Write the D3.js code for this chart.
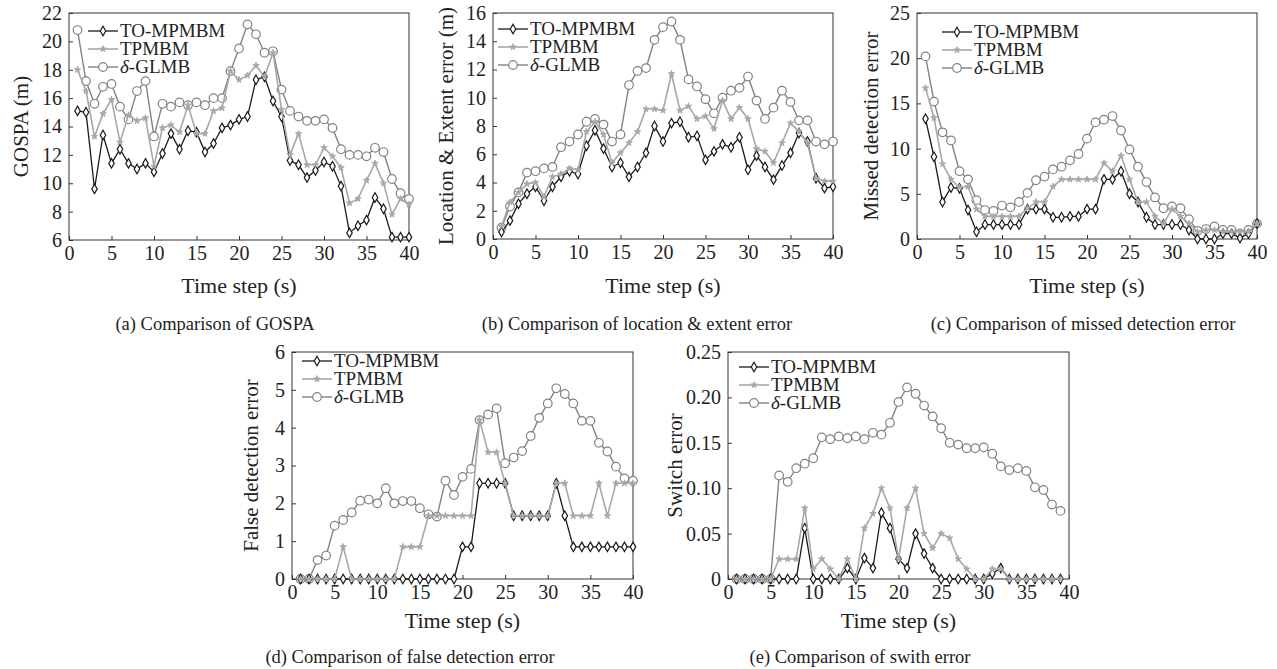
<!DOCTYPE html>
<html lang="en">
<head>
<meta charset="UTF-8">
<title>Tracking error comparison</title>
<script src="https://cdn.jsdelivr.net/npm/d3@7/dist/d3.min.js"></script>
<style>
    body { margin: 0; background: #fff; }
    svg { font-family: "Liberation Serif", "Times New Roman", serif; }
</style>
</head>
<body>
<svg width="1277" height="669"></svg>
<script>
    // time steps
    var steps = d3.range(1, 41);
    var stepsE = d3.range(1, 40);
    var seriesNames = ["TO-MPMBM", "TPMBM", "δ-GLMB"];

    // (a) GOSPA
    var gospaTO = [15.1,15.0,9.6,13.4,11.4,12.4,11.4,11.0,11.4,10.8,12.1,13.5,12.4,13.7,13.6,12.2,12.8,13.9,14.1,14.5,14.7,17.3,17.5,15.8,14.7,11.6,11.3,10.4,10.9,11.5,11.2,9.8,6.5,7.0,7.4,9.0,8.2,6.2,6.2,6.2];
    var gospaTP = [18.0,16.5,13.3,14.9,15.9,12.9,14.8,14.4,14.6,11.2,13.9,14.1,13.6,15.5,13.5,13.5,15.1,15.3,17.9,17.3,17.6,18.3,17.5,19.2,15.2,12.0,13.5,11.3,11.3,12.5,11.9,11.1,8.6,8.9,10.2,11.4,10.0,7.8,8.9,8.5];
    var gospaGL = [20.8,17.2,15.6,16.8,17.0,15.4,14.5,16.5,17.2,13.3,15.6,15.4,15.7,15.5,15.7,15.5,16.0,16.0,17.9,19.5,21.2,20.5,19.2,19.3,16.6,15.1,14.7,14.4,14.4,14.5,13.9,12.4,12.0,12.0,11.9,12.5,12.2,10.3,9.3,8.9];

    // (b) location & extent error
    var locTO = [0.5,1.3,2.5,3.2,3.7,2.7,3.7,4.4,4.8,4.6,6.6,7.7,6.4,5.1,5.4,4.4,5.1,6.1,8.0,6.9,8.2,8.3,7.2,7.3,5.6,6.2,6.7,6.5,7.2,4.9,5.9,5.1,4.2,5.2,6.1,7.5,6.9,4.3,3.6,3.7];
    var locTP = [0.9,2.6,3.3,3.9,4.0,3.0,4.4,4.6,5.0,4.9,7.6,8.3,7.4,5.4,6.1,6.8,7.6,9.2,9.2,9.1,11.7,9.1,9.4,8.5,8.7,7.8,9.8,8.5,9.3,8.5,6.4,6.2,5.4,6.8,8.2,7.6,6.8,4.3,4.1,4.1];
    var locGL = [0.8,2.3,3.3,4.7,4.8,5.0,5.1,6.5,6.9,7.4,8.3,8.5,8.1,6.9,7.4,10.9,11.9,12.1,14.1,15.0,15.4,14.1,11.3,10.8,9.9,8.9,10.0,10.5,10.7,11.5,9.8,8.5,9.3,10.5,9.7,8.4,8.4,6.9,6.7,6.9];

    // (c) missed detection error
    var missTO = [13.3,9.1,4.1,5.7,5.6,3.2,0.8,1.6,1.6,1.6,1.6,1.6,3.3,3.3,3.3,2.4,2.4,2.5,2.5,3.3,3.3,6.6,6.6,7.5,5.0,4.1,2.4,1.6,1.6,1.6,1.6,1.0,0,0,0,0.6,0.6,0.1,0.6,1.7];
    var missTP = [16.7,13.4,8.3,6.6,5.7,5.8,3.3,2.5,2.5,2.5,2.5,2.5,3.4,4.1,4.1,5.8,6.6,6.6,6.6,6.6,6.6,8.4,7.5,9.2,6.6,4.1,4.1,2.5,1.7,3.3,2.5,1.7,0.8,1.0,1.0,0.8,0.8,0.8,0.8,1.7];
    var missGL = [20.2,15.2,11.8,10.9,7.5,6.6,4.3,3.2,3.1,3.7,3.5,4.1,5.1,6.5,6.9,7.7,8.0,8.7,9.4,11.1,12.9,13.2,13.6,12.0,9.9,8.0,6.3,4.6,3.4,3.6,3.4,2.2,0.9,1.1,1.4,1.0,1.0,0.6,1.0,1.7];

    // (d) false detection error
    var falseTO = [0,0,0,0,0,0,0,0,0,0,0,0,0,0,0,0,0,0,0,0.85,0.85,2.53,2.53,2.53,2.53,1.67,1.67,1.67,1.67,1.67,2.53,1.67,0.85,0.85,0.85,0.85,0.85,0.85,0.85,0.85];
    var falseTP = [0,0,0,0,0,0.85,0,0,0,0,0,0,0.85,0.85,0.85,1.67,1.67,1.67,1.67,1.67,1.67,4.2,3.35,3.35,2.53,1.67,1.67,1.67,1.67,1.67,2.53,2.53,1.67,1.67,1.67,2.53,1.67,2.53,2.53,2.53];
    var falseGL = [0,0,0.5,0.62,1.41,1.56,1.76,2.07,2.1,2.0,2.4,2.0,2.06,2.06,1.87,1.71,1.65,2.6,2.22,2.7,2.91,4.2,4.35,4.51,3.06,3.21,3.38,3.78,4.26,4.64,5.04,4.89,4.64,4.18,4.18,3.6,3.37,2.97,2.66,2.6];

    // (e) switch error (steps 1..39)
    var switchTO = [0,0,0,0,0,0,0,0,0.056,0,0,0,0,0.012,0,0.023,0.012,0.073,0.056,0.022,0.012,0.05,0.028,0.012,0,0,0,0,0,0,0.006,0.012,0,0,0,0,0,0,0];
    var switchTP = [0,0,0,0,0,0.022,0.022,0.022,0.078,0.011,0.022,0.011,0,0.022,0,0.056,0.072,0.1,0.078,0.022,0.078,0.1,0.05,0.034,0.05,0.045,0.022,0.011,0,0,0.011,0.011,0,0,0,0,0,0,0];
    var switchGL = [0,0,0,0,0,0.114,0.107,0.122,0.127,0.133,0.156,0.154,0.157,0.155,0.157,0.154,0.161,0.159,0.172,0.195,0.211,0.204,0.191,0.179,0.166,0.15,0.148,0.144,0.144,0.145,0.138,0.124,0.12,0.122,0.119,0.101,0.098,0.082,0.075];

    // tick labels
    var xTicks = [0, 5, 10, 15, 20, 25, 30, 35, 40];
    var gospaTicks = [6, 8, 10, 12, 14, 16, 18, 20, 22];
    var locTicks = [0, 2, 4, 6, 8, 10, 12, 14, 16];
    var missTicks = [0, 5, 10, 15, 20, 25];
    var falseTicks = [0, 1, 2, 3, 4, 5, 6];
    var switchTicks = [0, 0.05, 0.10, 0.15, 0.20, 0.25];

    var panels = [
        {x: steps, ys: [gospaTO, gospaTP, gospaGL], ticks: gospaTicks, fmt: d3.format("d"),
         ylabel: "GOSPA (m)", caption: "(a) Comparison of GOSPA",
         left: 69, top: 13, w: 340, h: 227, ylabX: 21, capX: 215, titleDy: 53, capDy: 90, leg: [19, 18]},
        {x: steps, ys: [locTO, locTP, locGL], ticks: locTicks, fmt: d3.format("d"),
         ylabel: "Location & Extent error (m)", caption: "(b) Comparison of location & extent error",
         left: 493, top: 13, w: 340, h: 226, ylabX: 446, capX: 637, titleDy: 54, capDy: 91, leg: [5, 16]},
        {x: steps, ys: [missTO, missTP, missGL], ticks: missTicks, fmt: d3.format("d"),
         ylabel: "Missed detection error", caption: "(c) Comparison of missed detection error",
         left: 917, top: 13, w: 340, h: 226, ylabX: 871, capX: 1083, titleDy: 54, capDy: 91, leg: [25, 19]},
        {x: steps, ys: [falseTO, falseTP, falseGL], ticks: falseTicks, fmt: d3.format("d"),
         ylabel: "False detection error", caption: "(d) Comparison of false detection error",
         left: 292, top: 352, w: 341, h: 227, ylabX: 251, capX: 410, titleDy: 49, capDy: 84, leg: [10, 9]},
        {x: stepsE, ys: [switchTO, switchTP, switchGL], ticks: switchTicks,
         fmt: function(d) { return d === 0 ? "0" : d3.format(".2f")(d); },
         ylabel: "Switch error", caption: "(e) Comparison of swith error",
         left: 728, top: 352, w: 341, h: 227, ylabX: 675, capX: 860, titleDy: 49, capDy: 84, leg: [11, 15]}
    ];

    var colors = ["#1a1a1a", "#a8a8a8", "#828282"];
    var widths = [1.3, 1.6, 1.4];

    var svg = d3.select("svg");

    function drawMarker(sel, k) {
        if (k === 0) {
            sel.append("path")
                .attr("d", d3.symbol(d3.symbolDiamond, 26))
                .attr("fill", "#fff").attr("stroke", colors[0]).attr("stroke-width", 1.2);
        } else if (k === 1) {
            sel.append("path")
                .attr("d", d3.symbol(d3.symbolStar, 13))
                .attr("fill", colors[1]).attr("stroke", colors[1]).attr("stroke-width", 0.9);
        } else {
            sel.append("circle")
                .attr("r", 4.3)
                .attr("fill", "#fff").attr("stroke", colors[2]).attr("stroke-width", 1.2);
        }
    }

    panels.forEach(function(p) {
        var xScale = d3.scaleLinear().domain([0, 40]).range([0, p.w]);
        var yScale = d3.scaleLinear()
            .domain([p.ticks[0], p.ticks[p.ticks.length - 1]])
            .range([p.h, 0]);

        var g = svg.append("g")
            .attr("transform", "translate(" + p.left + "," + p.top + ")");

        var xAxis = g.append("g")
            .attr("transform", "translate(0," + p.h + ")")
            .call(d3.axisBottom(xScale).tickValues(xTicks).tickSize(-4).tickPadding(6));
        var yAxis = g.append("g")
            .call(d3.axisLeft(yScale).tickValues(p.ticks).tickFormat(p.fmt).tickSize(-4).tickPadding(7));

        [xAxis, yAxis].forEach(function(ax) {
            ax.select(".domain").remove();
            ax.selectAll("line").attr("stroke", "#333");
            ax.selectAll("text")
                .attr("font-family", "Liberation Serif")
                .attr("font-size", 20)
                .attr("fill", "#222");
        });
        xAxis.selectAll("text").attr("dy", "0.72em");

        g.append("rect")
            .attr("width", p.w).attr("height", p.h)
            .attr("fill", "none").attr("stroke", "#333").attr("stroke-width", 1);

        // series: δ-GLMB first, then TO-MPMBM, TPMBM on top
        [2, 0, 1].forEach(function(k) {
            var data = p.x.map(function(t, i) { return [t, p.ys[k][i]]; });
            var line = d3.line()
                .x(function(d) { return xScale(d[0]); })
                .y(function(d) { return yScale(d[1]); });
            g.append("path")
                .datum(data)
                .attr("d", line)
                .attr("fill", "none")
                .attr("stroke", colors[k])
                .attr("stroke-width", widths[k]);
            g.selectAll(".m" + k)
                .data(data)
                .enter()
                .append("g")
                .attr("class", "m" + k)
                .attr("transform", function(d) { return "translate(" + xScale(d[0]) + "," + yScale(d[1]) + ")"; })
                .each(function() { drawMarker(d3.select(this), k); });
        });

        // legend
        var leg = g.append("g")
            .attr("transform", "translate(" + p.leg[0] + "," + p.leg[1] + ")");
        seriesNames.forEach(function(name, k) {
            var row = leg.append("g").attr("transform", "translate(0," + (k * 18) + ")");
            row.append("line")
                .attr("x1", 0).attr("x2", 30)
                .attr("stroke", colors[k]).attr("stroke-width", widths[k]);
            drawMarker(row.append("g").attr("transform", "translate(15,0)"), k);
            var t = row.append("text")
                .attr("x", 32).attr("y", 6)
                .attr("font-size", 19).attr("fill", "#222");
            if (k === 2) {
                t.append("tspan").attr("font-style", "italic").text("δ");
                t.append("tspan").text("-GLMB");
            } else {
                t.text(name);
            }
        });

        // axis titles and caption
        svg.append("text")
            .attr("x", p.left + p.w / 2).attr("y", p.top + p.h + p.titleDy)
            .attr("text-anchor", "middle").attr("font-size", 22).attr("fill", "#222")
            .text("Time step (s)");
        svg.append("text")
            .attr("transform", "translate(" + p.ylabX + "," + (p.top + p.h / 2) + ") rotate(-90)")
            .attr("text-anchor", "middle").attr("dy", "0.35em")
            .attr("font-size", 21).attr("fill", "#222")
            .text(p.ylabel);
        svg.append("text")
            .attr("x", p.capX).attr("y", p.top + p.h + p.capDy)
            .attr("text-anchor", "middle").attr("font-size", 18.5).attr("fill", "#222")
            .text(p.caption);
    });
</script>
</body>
</html>
